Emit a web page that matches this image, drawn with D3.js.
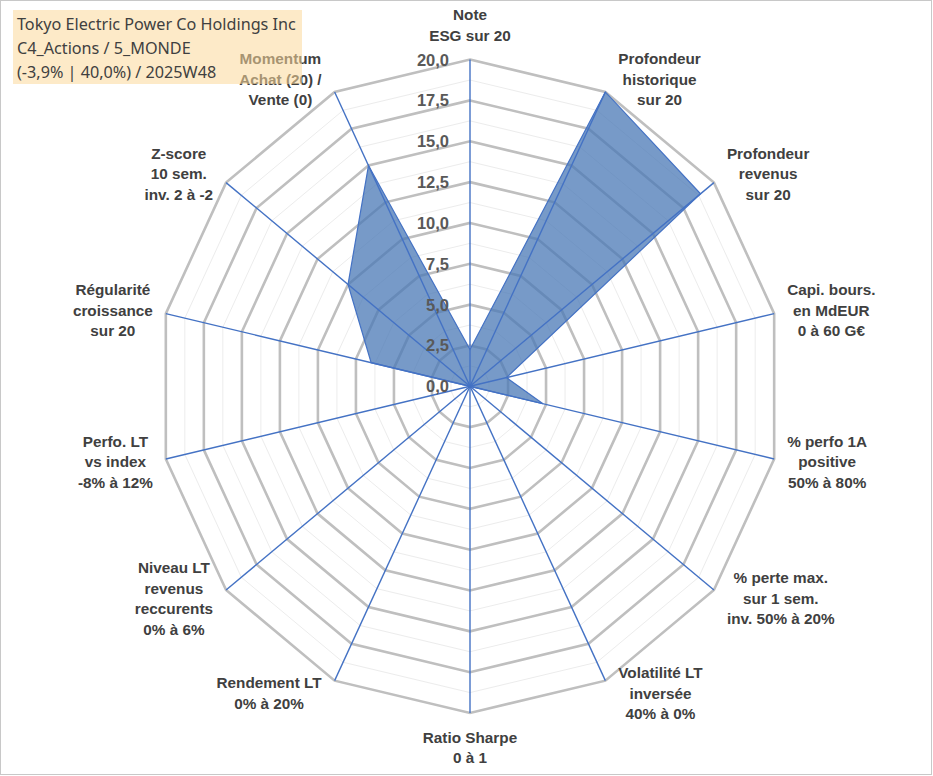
<!DOCTYPE html>
<html>
<head>
<meta charset="utf-8">
<script src="https://cdn.jsdelivr.net/npm/d3@7"></script>
<style>
  body { margin: 0; background: #fff; }
  svg { display: block; }
  .axis-label { font-family: "Liberation Sans", Arial, sans-serif; font-weight: bold; font-size: 15.3px; fill: #404040; }
  .tick-label { font-family: "Liberation Sans", Arial, sans-serif; font-weight: bold; font-size: 16.5px; fill: #595959; }
  .title { font-family: "Noto Sans", "Open Sans", sans-serif; font-size: 16.2px; fill: #404040; }
</style>
</head>
<body>
<svg id="chart"></svg>
<script>

// axis names, clockwise from the top
const axisNames = [
  ['Note', 'ESG sur 20'],
  ['Profondeur', 'historique', 'sur 20'],
  ['Profondeur', 'revenus', 'sur 20'],
  ['Capi. bours.', 'en MdEUR', '0 à 60 G€'],
  ['% perfo 1A', 'positive', '50% à 80%'],
  ['% perte max.', 'sur 1 sem.', 'inv. 50% à 20%'],
  ['Volatilité LT', 'inversée', '40% à 0%'],
  ['Ratio Sharpe', '0 à 1'],
  ['Rendement LT', '0% à 20%'],
  ['Niveau LT', 'revenus', 'reccurents', '0% à 6%'],
  ['Perfo. LT', 'vs index', '-8% à 12%'],
  ['Régularité', 'croissance', 'sur 20'],
  ['Z-score', '10 sem.', 'inv. 2 à -2'],
  ['Momentum', 'Achat (20) /', 'Vente (0)']
];

// scores
const scores = [2.25, 20, 18.9, 2.4, 4.8, 0, 0, 0, 0, 0, 0, 6.5, 10, 15];

const majorTicks = [0, 2.5, 5, 7.5, 10, 12.5, 15, 17.5, 20];
const minorTicks = [1.25, 3.75, 6.25, 8.75, 11.25, 13.75, 16.25, 18.75];

const titleLines = [
  'Tokyo Electric Power Co Holdings Inc',
  'C4_Actions / 5_MONDE',
  '(-3,9% | 40,0%) / 2025W48'
];

class RadarChart {

  constructor(_config) {
    this.config = {
      parentElement: _config.parentElement,
      containerWidth: _config.containerWidth || 933,
      containerHeight: _config.containerHeight || 776,
      cx: 470,
      cy: 386.3,
      radius: 326.7,
      xStretch: 0.955,   // the plot is a bit narrower than tall
      lineHeight: 20.5,
      labelGap: 13
    };
    this.initVis();
  }

  initVis() {
    let vis = this;
    let c = vis.config;

    vis.svg = d3.select(c.parentElement)
      .attr('width', c.containerWidth)
      .attr('height', c.containerHeight);

    // frame
    vis.svg.append('rect')
      .attr('x', 0.5).attr('y', 0.5)
      .attr('width', c.containerWidth - 2)
      .attr('height', c.containerHeight - 2)
      .attr('fill', 'none')
      .attr('stroke', '#c8c8c8');

    vis.rScale = d3.scaleLinear().domain([0, 20]).range([0, c.radius]);
    vis.aScale = d3.scaleLinear().domain([0, axisNames.length]).range([0, 2 * Math.PI]);

    vis.px = (v, i) => c.cx + vis.rScale(v) * Math.sin(vis.aScale(i)) * c.xStretch;
    vis.py = (v, i) => c.cy - vis.rScale(v) * Math.cos(vis.aScale(i));

    vis.updateVis();
  }

  updateVis() {
    let vis = this;
    let c = vis.config;
    let idx = d3.range(axisNames.length);

    let ring = v => d3.line()
      .x(i => vis.px(v, i))
      .y(i => vis.py(v, i))
      .curve(d3.curveLinearClosed)(idx);

    // minor rings
    vis.svg.append('g').selectAll('path')
      .data(minorTicks)
      .join('path')
        .attr('d', d => ring(d))
        .attr('fill', 'none')
        .attr('stroke', '#ececec')
        .attr('stroke-width', 1);

    // major rings
    vis.svg.append('g').selectAll('path')
      .data(majorTicks.filter(d => d > 0))
      .join('path')
        .attr('d', d => ring(d))
        .attr('fill', 'none')
        .attr('stroke', '#bfbfbf')
        .attr('stroke-width', 2.6);

    // series area
    vis.svg.append('path')
      .datum(scores)
      .attr('d', d3.line()
        .x((d, i) => vis.px(d, i))
        .y((d, i) => vis.py(d, i))
        .curve(d3.curveLinearClosed))
      .attr('fill', '#4a78b5')
      .attr('fill-opacity', 0.75)
      .attr('stroke', '#4472c4')
      .attr('stroke-width', 1.2);

    // spokes
    vis.svg.append('g').selectAll('line')
      .data(idx)
      .join('line')
        .attr('x1', c.cx).attr('y1', c.cy)
        .attr('x2', i => vis.px(20, i))
        .attr('y2', i => vis.py(20, i))
        .attr('stroke', '#4472c4')
        .attr('stroke-width', 1.4);

    // value ticks along the top spoke
    vis.svg.append('g').selectAll('text')
      .data(majorTicks)
      .join('text')
        .attr('class', 'tick-label')
        .attr('x', c.cx - 21)
        .attr('y', d => vis.py(d, 0) + 6)
        .attr('text-anchor', 'end')
        .text(d => d3.format('.1f')(d).replace('.', ','));

    // axis names
    let labels = vis.svg.append('g').selectAll('text')
      .data(idx)
      .join('text')
        .attr('class', 'axis-label')
        .attr('text-anchor', 'middle');

    labels.selectAll('tspan')
      .data(i => axisNames[i])
      .join('tspan')
        .text(d => d);

    labels.each(function(i) {
      let t = d3.select(this);
      let a = vis.aScale(i);
      let s = Math.sin(a), co = Math.cos(a);
      let lines = axisNames[i].length;
      let h = lines * c.lineHeight;
      let w = d3.max(t.selectAll('tspan').nodes(), n => n.getComputedTextLength());
      let lx = vis.px(20, i), ly = vis.py(20, i);
      let mx = lx, my = ly - co * 14;
      if (Math.abs(s) > 0.01) mx = lx + Math.sign(s) * (w / 2 + c.labelGap);
      else my = ly - co * (h / 2 + 14);
      let top = my - h / 2;
      t.selectAll('tspan')
        .attr('x', mx)
        .attr('y', (d, k) => top + c.lineHeight * k + 15.5);
    });

    vis.renderVis();
  }

  renderVis() {
    let vis = this;

    // title box sits over the chart, partly see-through
    vis.svg.append('rect')
      .attr('x', 13).attr('y', 10)
      .attr('width', 289).attr('height', 74)
      .attr('fill', '#fbd89a')
      .attr('fill-opacity', 0.55);

    vis.svg.append('g').selectAll('text')
      .data(titleLines)
      .join('text')
        .attr('class', 'title')
        .attr('x', 17)
        .attr('y', (d, i) => 30 + i * 24)
        .text(d => d);
  }
}

let chart = new RadarChart({ parentElement: '#chart', containerWidth: 933, containerHeight: 776 });

</script>
</body>
</html>
